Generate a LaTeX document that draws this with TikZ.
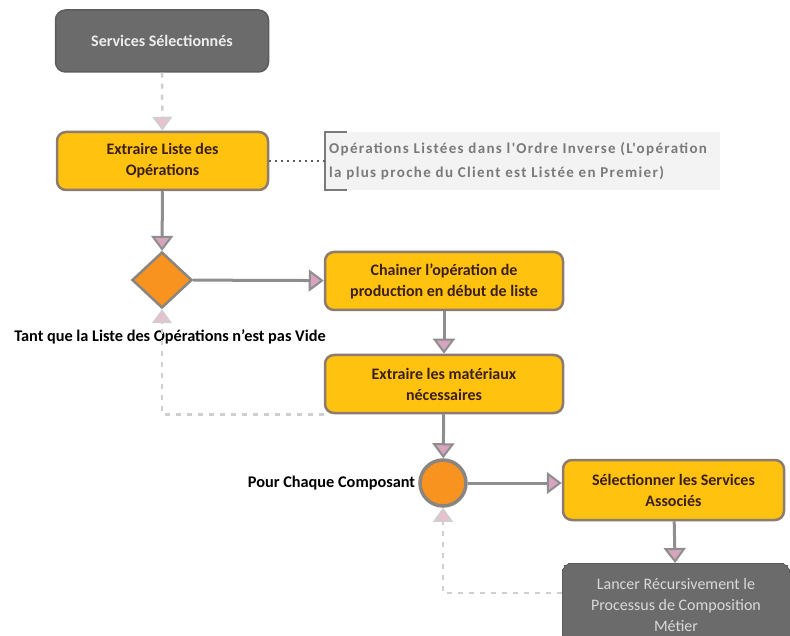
\documentclass[tikz,border=0pt]{standalone}
\usepackage{fontspec}
\setmainfont{Carlito}
\newfontfamily\notefont[LetterSpace=9]{Carlito}
\usetikzlibrary{arrows.meta,shapes.geometric}

\definecolor{boxyellow}{HTML}{FFC20E}
\definecolor{boxedge}{HTML}{8C7B6E}
\definecolor{boxtext}{HTML}{3B1F1F}
\definecolor{darkfill}{HTML}{6B6B6B}
\definecolor{darkedge}{HTML}{5C5C5C}
\definecolor{decfill}{HTML}{F7931E}
\definecolor{decedge}{HTML}{8A8580}
\definecolor{flowgray}{HTML}{8E8E8E}
\definecolor{loopgray}{HTML}{CFCFCF}
\definecolor{tippink}{HTML}{D6A4BC}
\definecolor{tiplight}{HTML}{E6C2D0}
\definecolor{notegray}{HTML}{7A7A7A}
\definecolor{noteback}{HTML}{F3F3F3}

\tikzset{
  taskbox/.style={draw=boxedge, line width=2.5pt, fill=boxyellow, rounded corners=9pt,
    text=boxtext, font=\bfseries\fontsize{16}{21}\selectfont, align=center, inner sep=0pt},
  darkbox/.style={draw=darkedge, line width=1.5pt, fill=darkfill, rounded corners=10pt,
    text=white!93!black, font=\bfseries\fontsize{16}{21}\selectfont, align=center, inner sep=0pt},
  decision/.style={diamond, draw=decedge, line width=2.5pt, fill=decfill, inner sep=0pt},
  merge/.style={circle, draw=decedge, line width=3.5pt, fill=decfill, inner sep=0pt},
  flow/.style={draw=flowgray, line width=3pt,
    -{Triangle[width=22pt,length=15pt,fill=tippink,line width=2pt]}},
  backflow/.style={draw=loopgray, line width=2.5pt, dash pattern=on 5pt off 6pt,
    -{Triangle[width=20pt,length=14pt,fill=tiplight,line width=1.5pt]}},
  leader/.style={draw=darkedge, line width=2pt, dash pattern=on 2pt off 4pt},
  steplabel/.style={font=\bfseries\fontsize{16.3}{18}\selectfont, text=black, inner sep=0pt},
}

\begin{document}
\begin{tikzpicture}[x=1pt,y=-1pt]
\useasboundingbox (0,0) rectangle (790,636);
\clip (0,0) rectangle (790,636);

% process steps
\node[darkbox, minimum width=213pt, minimum height=62pt] (svc) at (162,41) {Services Sélectionnés};
\node[taskbox, minimum width=211pt, minimum height=58pt] (ext) at (162.5,161) {Extraire Liste des\\Opérations};
\node[decision, minimum width=60pt, minimum height=56pt] (dia) at (162,280) {};
\node[taskbox, minimum width=238pt, minimum height=58pt] (chn) at (444,281) {Chainer l’opération de\\production en début de liste};
\node[taskbox, minimum width=238pt, minimum height=58pt] (mat) at (444,384) {Extraire les matériaux\\nécessaires};
\node[merge, minimum size=46pt] (cmp) at (443,483) {};
\node[taskbox, minimum width=221pt, minimum height=60pt] (sel) at (673.5,490) {Sélectionner les Services\\Associés};
\node[darkbox, minimum width=228pt, minimum height=84pt, line width=0pt,
  font=\mdseries\fontsize{16}{21}\selectfont, text=white!85!black] (rec) at (676,605)
  {Lancer Récursivement le\\Processus de Composition\\Métier};

% annotation
\node[anchor=west, minimum height=58pt, minimum width=395pt, fill=noteback, inner sep=0pt] (note) at (325,161) {};
\node[anchor=west, align=left, text=notegray, font=\notefont\bfseries\fontsize{15}{24}\selectfont, inner sep=0pt]
  (notetext) at ([xshift=4pt]note.west) {Opérations Listées dans l'Ordre Inverse (L'opération\\la plus proche du Client est Listée en Premier)};
\draw[draw=notegray, line width=2pt] ([xshift=22pt]note.north west) -- (note.north west) -- (note.south west) -- ([xshift=22pt]note.south west);

% labels
\node[steplabel] (lblwhile) at (170,337) {Tant que la Liste des Opérations n'est pas Vide};
\node[steplabel, anchor=east] (lblfor) at ([xshift=-3pt]cmp.west) {Pour Chaque Composant};

% connectors
\draw[backflow] (svc) -- (ext);
\draw[leader] (ext.east) -- (note.west);
\draw[flow] (ext) -- (dia);
\draw[flow] (dia) -- (chn);
\draw[flow] (chn) -- (mat);
\draw[flow] (mat) -- (cmp);
\draw[flow] (cmp) -- (sel.west |- cmp.east);
\draw[flow] (sel) -- (rec);
\draw[backflow] (mat.south west) -| (dia.south);
\draw[backflow] ([yshift=12pt]rec.west) -| (cmp.south);
\end{tikzpicture}
\end{document}
